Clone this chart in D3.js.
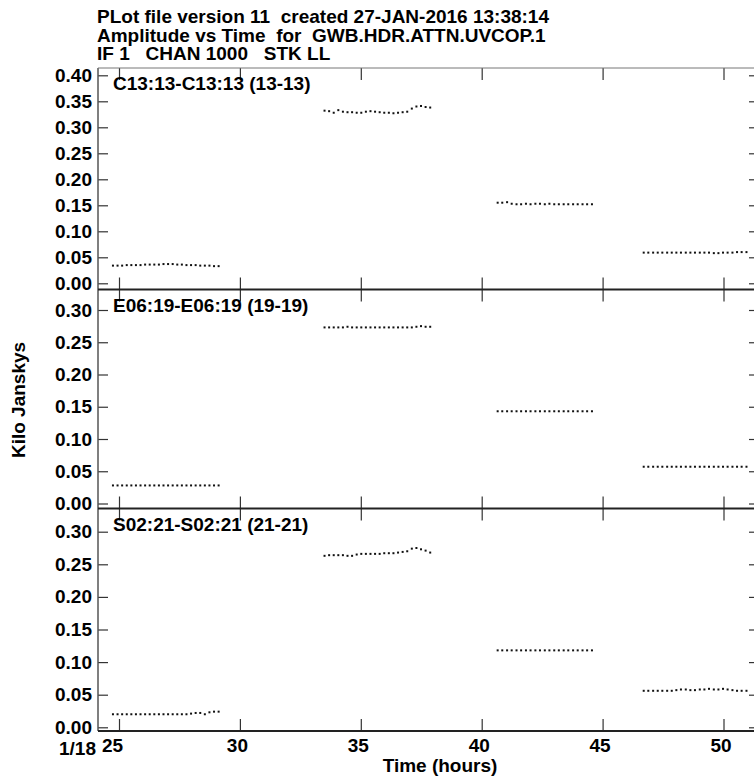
<!DOCTYPE html>
<html>
<head>
<meta charset="utf-8">
<script src="https://cdn.jsdelivr.net/npm/d3@7"></script>
<style>
  body { margin: 0; background: #fff; }
  svg { display: block; font-family: "Liberation Sans", Arial, sans-serif; font-weight: bold; }
  svg text { white-space: pre; }
</style>
</head>
<body>
<svg id="chart" width="754" height="781"></svg>
<script>
// header lines
var titleLines = [
  "PLot file version 11  created 27-JAN-2016 13:38:14",
  "Amplitude vs Time  for  GWB.HDR.ATTN.UVCOP.1",
  "IF 1   CHAN 1000   STK LL"
];

// sample times (hours), four scans shared by every baseline
var scanA = [24.75, 24.94, 25.13, 25.32, 25.51, 25.70, 25.89, 26.08, 26.27, 26.46, 26.65, 26.84,
             27.03, 27.22, 27.41, 27.60, 27.79, 27.98, 28.17, 28.36, 28.55, 28.74, 28.93, 29.12];
var scanB = [33.50, 33.69, 33.88, 34.07, 34.26, 34.45, 34.64, 34.83, 35.02, 35.21, 35.40, 35.59,
             35.78, 35.97, 36.16, 36.35, 36.54, 36.73, 36.92, 37.11, 37.30, 37.49, 37.68, 37.87];
var scanC = [40.66, 40.85, 41.05, 41.24, 41.44, 41.63, 41.83, 42.02, 42.22, 42.41, 42.61,
             42.80, 43.00, 43.19, 43.39, 43.58, 43.78, 43.97, 44.17, 44.36, 44.56];
var scanD = [46.70, 46.89, 47.09, 47.28, 47.47, 47.67, 47.86, 48.05, 48.24, 48.44, 48.63, 48.82,
             49.02, 49.21, 49.40, 49.60, 49.79, 49.98, 50.17, 50.37, 50.56, 50.75, 50.95];

// amplitudes (Jy/1000) for C13:13
var c13A = [0.034,0.034,0.034,0.035,0.035,0.035,0.035,0.036,0.036,0.036,0.036,0.037,
            0.037,0.037,0.036,0.036,0.035,0.035,0.035,0.034,0.034,0.034,0.033,0.033];
var c13B = [0.332,0.331,0.328,0.333,0.330,0.329,0.329,0.328,0.328,0.330,0.331,0.330,
            0.329,0.328,0.328,0.327,0.328,0.329,0.330,0.336,0.340,0.341,0.339,0.338];
var c13C = [0.155,0.155,0.156,0.153,0.152,0.152,0.153,0.152,0.153,0.153,0.152,
            0.153,0.152,0.152,0.152,0.152,0.152,0.152,0.152,0.152,0.152];
var c13D = [0.059,0.059,0.059,0.059,0.059,0.059,0.059,0.059,0.059,0.059,0.059,0.059,
            0.059,0.059,0.059,0.058,0.058,0.059,0.059,0.059,0.060,0.060,0.060];

// E06:19
var e06A = [0.028,0.028,0.028,0.028,0.028,0.028,0.028,0.028,0.028,0.028,0.028,0.028,
            0.028,0.028,0.028,0.028,0.028,0.028,0.028,0.028,0.028,0.028,0.028,0.028];
var e06B = [0.273,0.273,0.273,0.273,0.273,0.274,0.273,0.273,0.273,0.273,0.273,0.273,
            0.273,0.273,0.273,0.273,0.273,0.273,0.273,0.273,0.274,0.275,0.274,0.274];
var e06C = [0.143,0.143,0.143,0.143,0.143,0.143,0.143,0.143,0.143,0.143,0.143,
            0.143,0.143,0.143,0.143,0.143,0.143,0.143,0.143,0.143,0.143];
var e06D = [0.057,0.057,0.057,0.057,0.057,0.057,0.057,0.057,0.057,0.057,0.057,0.057,
            0.057,0.057,0.057,0.057,0.057,0.057,0.057,0.057,0.057,0.057,0.057];

// S02:21
var s02A = [0.020,0.020,0.020,0.020,0.020,0.020,0.020,0.020,0.020,0.020,0.020,0.020,
            0.020,0.020,0.020,0.020,0.020,0.021,0.022,0.022,0.020,0.023,0.024,0.024];
var s02B = [0.263,0.264,0.264,0.264,0.264,0.263,0.263,0.265,0.266,0.266,0.266,0.266,
            0.266,0.267,0.267,0.267,0.268,0.269,0.270,0.274,0.275,0.273,0.271,0.268];
var s02C = [0.118,0.118,0.118,0.118,0.118,0.118,0.118,0.118,0.118,0.118,0.118,
            0.118,0.118,0.118,0.118,0.118,0.118,0.118,0.118,0.118,0.118];
var s02D = [0.056,0.056,0.056,0.056,0.056,0.056,0.056,0.057,0.058,0.058,0.057,0.057,
            0.058,0.058,0.059,0.058,0.058,0.059,0.058,0.057,0.056,0.056,0.056];

var panelNames = ["C13:13-C13:13 (13-13)", "E06:19-E06:19 (19-19)", "S02:21-S02:21 (21-21)"];
var panelSeries = [[c13A, c13B, c13C, c13D], [e06A, e06B, e06C, e06D], [s02A, s02B, s02C, s02D]];
var panelTicks = [
  [0.00, 0.05, 0.10, 0.15, 0.20, 0.25, 0.30, 0.35, 0.40],
  [0.00, 0.05, 0.10, 0.15, 0.20, 0.25, 0.30],
  [0.00, 0.05, 0.10, 0.15, 0.20, 0.25, 0.30]
];
var scans = [scanA, scanB, scanC, scanD];
var xTicks = [25, 30, 35, 40, 45, 50];

var svg = d3.select("#chart");
var fontSize = 19;
var frameL = 98, frameR = 759;

var x = d3.scaleLinear().domain([25, 50]).range([119, 723.5]);

// each panel: pixel box and its own amplitude scale
var panels = [
  {top: 68,    bottom: 289.5, y: d3.scaleLinear().domain([0, 0.40]).range([283.3, 75.3])},
  {top: 289.5, bottom: 508.5, y: d3.scaleLinear().domain([0, 0.30]).range([503.5, 310])},
  {top: 508.5, bottom: 731,   y: d3.scaleLinear().domain([0, 0.30]).range([727.3, 531.7])}
];

// titles
svg.selectAll(".title")
  .data(titleLines)
  .enter()
  .append("text")
  .attr("class", "title")
  .attr("x", 97)
  .attr("y", function(d, i) { return 23 + i * 18.7; })
  .style("font-size", fontSize + "px")
  .text(function(d) { return d; });

var styleAxis = function(g, showLabels) {
  g.select(".domain").remove();
  g.selectAll(".tick line").attr("stroke", "#333").attr("stroke-width", 1.2);
  g.selectAll(".tick text")
    .attr("fill", "#000")
    .style("font-size", fontSize + "px")
    .style("font-family", "\"Liberation Sans\", Arial, sans-serif")
    .style("font-weight", "bold");
  if (!showLabels) g.selectAll(".tick text").remove();
};

panels.forEach(function(p, k) {
  var g = svg.append("g").attr("class", "panel");

  g.append("g")
    .attr("transform", "translate(" + frameL + ",0)")
    .call(d3.axisLeft(p.y).tickValues(panelTicks[k]).tickFormat(d3.format(".2f"))
      .tickSizeInner(-10).tickSizeOuter(0).tickPadding(6))
    .call(styleAxis, true);

  g.append("g")
    .attr("transform", "translate(" + frameR + ",0)")
    .call(d3.axisRight(p.y).tickValues(panelTicks[k]).tickSizeInner(-10).tickSizeOuter(0))
    .call(styleAxis, false);

  g.append("g")
    .attr("transform", "translate(0," + p.top + ")")
    .call(d3.axisTop(x).tickValues(xTicks).tickSizeInner(-12).tickSizeOuter(0))
    .call(styleAxis, false);

  var bottomAxis = g.append("g")
    .attr("transform", "translate(0," + p.bottom + ")")
    .call(d3.axisBottom(x).tickValues(xTicks).tickSizeInner(-12).tickSizeOuter(0).tickPadding(8))
    .call(styleAxis, k === panels.length - 1);
  bottomAxis.selectAll(".tick text").attr("dx", function(d) { return d === 25 ? -7 : -3; });

  g.append("text")
    .attr("x", 113)
    .attr("y", p.top + 22)
    .style("font-size", fontSize + "px")
    .text(panelNames[k]);

  panelSeries[k].forEach(function(vals, s) {
    g.selectAll(null)
      .data(vals.map(function(v, i) { return {t: scans[s][i], v: v}; }))
      .enter()
      .append("rect")
      .attr("x", function(d) { return x(d.t) - 1; })
      .attr("y", function(d) { return p.y(d.v) - 1; })
      .attr("width", 2)
      .attr("height", 2)
      .attr("fill", "#111");
  });
});

// frame
svg.append("line").attr("x1", frameL).attr("x2", frameL).attr("y1", 68).attr("y2", 731)
  .attr("stroke", "#555").attr("stroke-width", 1.5);
svg.append("line").attr("x1", frameL).attr("x2", frameR).attr("y1", 68).attr("y2", 68)
  .attr("stroke", "#777").attr("stroke-width", 1);
svg.selectAll(".sep")
  .data(panels.map(function(p) { return p.bottom; }))
  .enter()
  .append("line")
  .attr("class", "sep")
  .attr("x1", frameL).attr("x2", frameR)
  .attr("y1", function(d) { return d; }).attr("y2", function(d) { return d; })
  .attr("stroke", "#222").attr("stroke-width", 2);

// date label before first time tick
svg.append("text")
  .attr("x", 96)
  .attr("y", 755)
  .attr("text-anchor", "end")
  .style("font-size", fontSize + "px")
  .text("1/18");

svg.append("text")
  .attr("x", 440)
  .attr("y", 772)
  .attr("text-anchor", "middle")
  .style("font-size", fontSize + "px")
  .text("Time (hours)");

svg.append("text")
  .attr("transform", "translate(25,400) rotate(-90)")
  .attr("text-anchor", "middle")
  .style("font-size", fontSize + "px")
  .text("Kilo Janskys");
</script>
</body>
</html>
